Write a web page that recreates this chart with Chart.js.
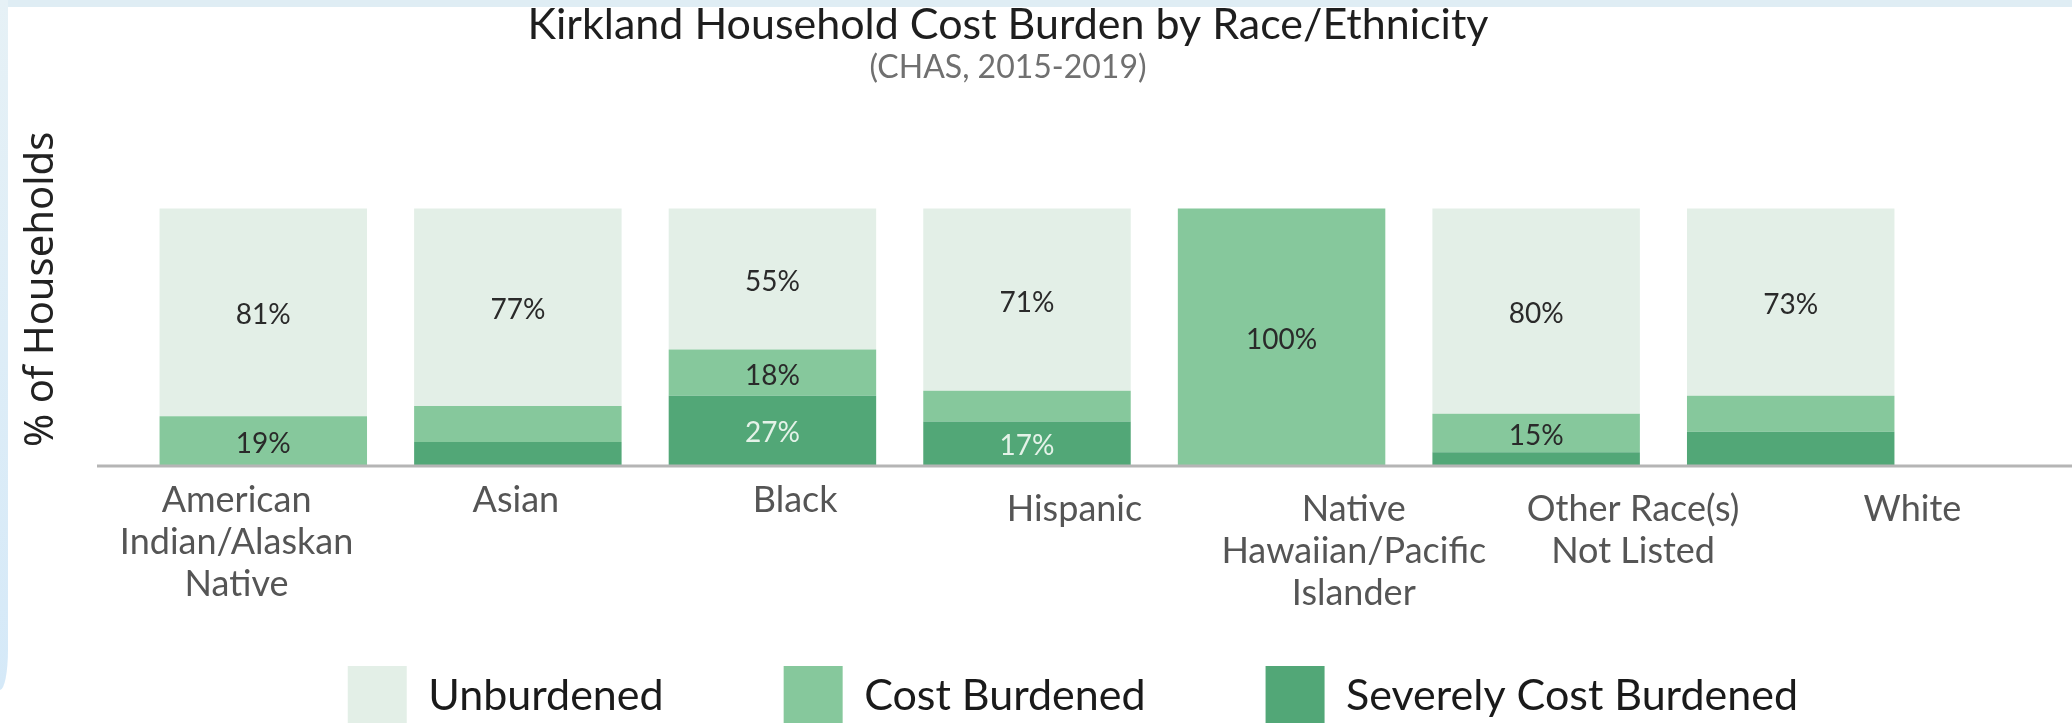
<!DOCTYPE html>
<html lang="en">
<head>
<meta charset="utf-8">
<title>Kirkland Household Cost Burden by Race/Ethnicity</title>
<script src="https://cdn.jsdelivr.net/npm/chart.js@4.4.1/dist/chart.umd.min.js"></script>
<style>
  html, body { margin: 0; padding: 0; background: #fff; overflow: hidden; }
  #wrap { position: relative; width: 2072px; height: 723px; }
  .moldura { position: absolute; pointer-events: none; }
  #mTopo { top: 0; left: 0; width: 100%; height: 7px; background: #dfedf4; }
  #mEsq { top: 0; left: 0; width: 8px; height: 690px; background: linear-gradient(#e6f1f6, #d5e9f8); border-bottom-right-radius: 8px 40px; }
</style>
</head>
<body>
<div id="wrap">
  <canvas id="graficoCusto"></canvas>
  <div class="moldura" id="mTopo"></div>
  <div class="moldura" id="mEsq"></div>
</div>
<script>
const tickLabels = [
  ["American", "Indian/Alaskan", "Native"],
  ["Asian"],
  ["Black"],
  ["Hispanic"],
  ["Native", "Hawaiian/Pacific", "Islander"],
  ["Other Race(s)", "Not Listed"],
  ["White"],
];
const categories = tickLabels.map((linhas) => linhas.join(" "));

// % of households in each group
const unburdened = [81, 77, 55, 71, 0, 80, 73];
const costBurdened = [19, 14, 18, 12, 100, 15, 14];
const severelyBurdened = [0, 9, 27, 17, 0, 5, 13];

// segments that carry a printed percentage
const showUnburdened = [true, true, true, true, false, true, true];
const showCost = [true, false, true, false, true, true, false];
const showSevere = [false, false, true, true, false, false, false];

Chart.defaults.font.family = "Lato";

// percentages written inside the bar segments
const rotulosBarras = {
  id: "rotulosBarras",
  afterDatasetsDraw(chart) {
    const ctx = chart.ctx;
    ctx.save();
    ctx.font = "28px Lato";
    ctx.textAlign = "center";
    ctx.textBaseline = "middle";
    chart.data.datasets.forEach((dataset, i) => {
      chart.getDatasetMeta(i).data.forEach((bar, j) => {
        if (!dataset.showLabel[j]) return;
        ctx.fillStyle = dataset.labelColor;
        ctx.fillText(dataset.data[j] + "%", bar.x, (bar.y + bar.base) / 2 + 3);
      });
    });
    ctx.restore();
  },
};

// grey base line under the bars, running to the right edge
const linhaBase = {
  id: "linhaBase",
  afterDatasetsDraw(chart) {
    const ctx = chart.ctx;
    const y = chart.scales.y.getPixelForValue(0);
    ctx.save();
    ctx.strokeStyle = "#b5b5b5";
    ctx.lineWidth = 3;
    ctx.beginPath();
    ctx.moveTo(97, y + 1);
    ctx.lineTo(chart.width, y + 1);
    ctx.stroke();
    ctx.restore();
  },
};

// group names hang from the zero line; the right-hand ones sit a bit lower
function eixoRotulos(indices, padding) {
  return {
    axis: "x",
    type: "linear",
    position: { y: 0 },
    offset: false,
    min: -0.36,
    max: 6.02,
    grid: { display: false, drawTicks: false },
    border: { display: false },
    afterBuildTicks: (scale) => {
      scale.ticks = indices.map((i) => ({ value: i }));
    },
    ticks: {
      autoSkip: false,
      maxRotation: 0,
      minRotation: 0,
      padding: padding,
      color: "#555",
      font: { size: 36, lineHeight: 1.17 },
      callback: (value) => tickLabels[value],
    },
  };
}
const indices = tickLabels.map((_, i) => i);

const graficoCusto = new Chart(document.getElementById("graficoCusto"), {
  type: "bar",
  data: {
    labels: categories,
    datasets: [
      {
        label: "Severely Cost Burdened",
        data: severelyBurdened,
        backgroundColor: "#52a777",
        showLabel: showSevere,
        labelColor: "#e4f2e8",
      },
      {
        label: "Cost Burdened",
        data: costBurdened,
        backgroundColor: "#86c89c",
        showLabel: showCost,
        labelColor: "#2a2a2a",
      },
      {
        label: "Unburdened",
        data: unburdened,
        backgroundColor: "#e3efe7",
        showLabel: showUnburdened,
        labelColor: "#2a2a2a",
      },
    ],
  },
  options: {
    responsive: true,
    maintainAspectRatio: false,
    animation: false,
    devicePixelRatio: 1,
    datasets: {
      bar: { barPercentage: 0.815, categoryPercentage: 1, borderWidth: 0 },
    },
    layout: { padding: { left: 18, right: 74, top: 0, bottom: -13 } },
    scales: {
      // bar positions; only keeps room above the legend
      x: {
        stacked: true,
        grid: { display: false },
        border: { display: false },
        ticks: { display: false },
        afterFit: (scale) => {
          scale.height = 81;
        },
      },
      rotulosA: eixoRotulos(indices.filter((i) => i < 3), 14),
      rotulosB: eixoRotulos(indices.filter((i) => i >= 3), 23),
      y: {
        stacked: true,
        min: 0,
        max: 137,
        grid: { display: false },
        border: { display: false },
        ticks: { display: false },
        title: {
          display: true,
          text: "% of Households",
          color: "#222",
          font: { family: "'Noto Sans'", size: 40 },
          padding: 0,
        },
        afterFit: (scale) => {
          scale.width = 118;
        },
      },
      margemDireita: {
        type: "linear",
        position: "right",
        grid: { display: false },
        border: { display: false },
        ticks: { display: false },
        afterFit: (scale) => {
          scale.width = 80;
        },
      },
    },
    plugins: {
      title: {
        display: true,
        text: "Kirkland Household Cost Burden by Race/Ethnicity",
        color: "#1e1e1e",
        font: { size: 43, weight: "normal", lineHeight: 1.1 },
        padding: { top: 1, bottom: 0 },
      },
      subtitle: {
        display: true,
        text: "(CHAS, 2015-2019)",
        color: "#707070",
        font: { size: 32, lineHeight: 1.2 },
        padding: { top: 0, bottom: 27 },
      },
      legend: {
        position: "bottom",
        align: "end",
        fullSize: false,
        reverse: true,
        labels: {
          boxWidth: 59,
          boxHeight: 60,
          padding: 120,
          color: "#1a1a1a",
          font: { size: 43 },
        },
      },
      tooltip: { enabled: false },
    },
  },
  plugins: [linhaBase, rotulosBarras],
});
</script>
</body>
</html>
